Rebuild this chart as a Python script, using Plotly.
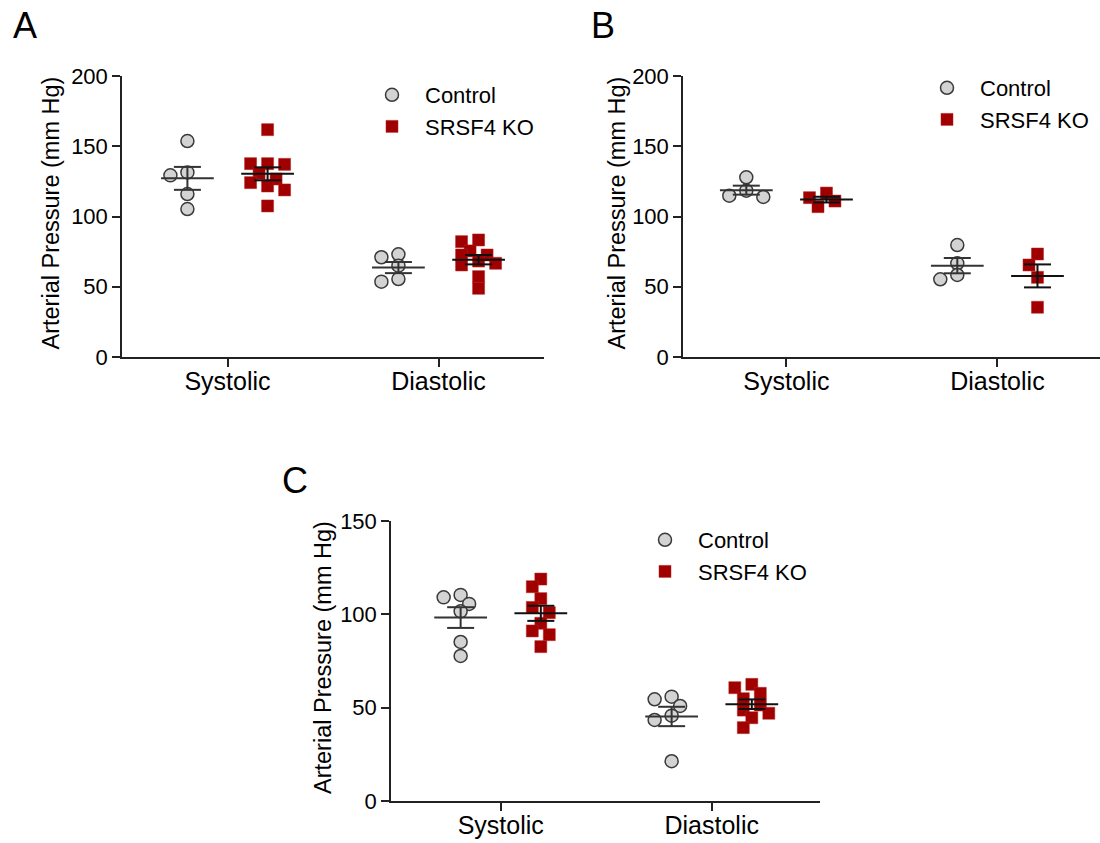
import numpy as np
import plotly.graph_objects as go

W, H = 1100, 843
FONT = "Liberation Sans, Arial, sans-serif"

categories = ["Systolic", "Diastolic"]
groups = ["Control", "SRSF4 KO"]

# Panel A values (mm Hg)
a_sys_control = [153.7, 131.4, 129.3, 116.0, 105.3]
a_sys_ko = [161.8, 137.6, 137.6, 137.1, 130.7, 126.7, 124.1, 121.7, 118.9, 107.5]
a_dia_control = [73.1, 71.0, 65.0, 55.5, 53.6]
a_dia_ko = [83.3, 82.1, 75.5, 72.6, 72.6, 68.3, 66.7, 65.5, 57.2, 48.9]

# Panel B values (mm Hg)
b_sys_control = [127.9, 118.4, 114.8, 113.9]
b_sys_ko = [116.7, 113.4, 111.0, 107.0]
b_dia_control = [79.7, 66.7, 58.4, 55.3]
b_dia_ko = [73.3, 65.5, 56.7, 35.4]

# Panel C values (mm Hg)
c_sys_control = [110.4, 109.1, 105.6, 101.6, 85.2, 77.7]
c_sys_ko = [118.9, 114.8, 108.4, 103.7, 100.9, 95.2, 91.1, 89.1, 82.7]
c_dia_control = [55.9, 54.5, 50.9, 45.7, 43.4, 21.3]
c_dia_ko = [62.5, 60.7, 57.7, 54.8, 51.4, 48.7, 47.0, 44.6, 39.3]

y_ticks_ab = [0, 50, 100, 150, 200]
y_ticks_c = [0, 50, 100, 150]
y_title = "Arterial Pressure (mm Hg)"

CTRL_FILL = "#d3d3d3"
CTRL_LINE = "#3a3a3a"
KO_COLOR = "#a00000"
GROUP_OFFSET = 0.19
MEAN_HALF = 0.125
CAP_HALF = 0.064

panels = [
    dict(name="A", data=[(a_sys_control, a_sys_ko), (a_dia_control, a_dia_ko)],
         xpx=(122, 544), ypx=(76, 357), xr=(-0.5, 1.5), yr=(0, 200), yticks=y_ticks_ab,
         legend=(359, 74), label=(25, 25), ytitle_x=50),
    dict(name="B", data=[(b_sys_control, b_sys_ko), (b_dia_control, b_dia_ko)],
         xpx=(683, 1100), ypx=(76, 357), xr=(-0.49, -0.49 + 417 / 211), yr=(0, 200), yticks=y_ticks_ab,
         legend=(914, 67), label=(603, 25), ytitle_x=616),
    dict(name="C", data=[(c_sys_control, c_sys_ko), (c_dia_control, c_dia_ko)],
         xpx=(391, 820), ypx=(521, 801), xr=(-0.52, -0.52 + 429 / 211), yr=(0, 150), yticks=y_ticks_c,
         legend=(632, 519), label=(295, 480), ytitle_x=323),
]


def swarm(vals, ppy, ppx, step=8.5, d=11.0):
    """Deterministic beeswarm: spread overlapping points horizontally in half-steps."""
    placed = []
    res = [0.0] * len(vals)
    order = sorted(range(len(vals)), key=lambda i: -vals[i])
    for i in order:
        y = vals[i] * ppy
        best_x, best_gap = 0.0, -1.0
        for k in [0, -1, 1, -2, 2]:
            x = k * step
            gap = min([np.hypot(x - px, y - py) for px, py in placed] or [1e9])
            if gap >= d - 1e-6:
                best_x = x
                break
            if gap > best_gap + 1e-6:
                best_x, best_gap = x, gap
        placed.append((best_x, y))
        res[i] = best_x / ppx
    return res


fig = go.Figure()
layout = dict(width=W, height=H, margin=dict(l=0, r=0, t=0, b=0, autoexpand=False),
              plot_bgcolor="white", paper_bgcolor="white",
              font=dict(family=FONT, color="black"), annotations=[])

for pi, p in enumerate(panels):
    sfx = "" if pi == 0 else str(pi + 1)
    xa, ya = "x" + sfx, "y" + sfx
    leg = "legend" + sfx
    ppx = (p["xpx"][1] - p["xpx"][0]) / (p["xr"][1] - p["xr"][0])
    ppy = (p["ypx"][1] - p["ypx"][0]) / (p["yr"][1] - p["yr"][0])

    for gi, gname in enumerate(groups):
        xs, ys = [], []
        lx, ly = [], []
        for ci, pair in enumerate(p["data"]):
            vals = pair[gi]
            center = ci + (-GROUP_OFFSET if gi == 0 else GROUP_OFFSET)
            offs = swarm(vals, ppy, ppx)
            xs += [center + o for o in offs]
            ys += list(vals)
            arr = np.array(vals, dtype=float)
            m = arr.mean()
            sem = arr.std(ddof=1) / np.sqrt(len(arr))
            lx += [center - MEAN_HALF, center + MEAN_HALF, None,
                   center, center, None,
                   center - CAP_HALF, center + CAP_HALF, None,
                   center - CAP_HALF, center + CAP_HALF, None]
            ly += [m, m, None, m - sem, m + sem, None,
                   m + sem, m + sem, None, m - sem, m - sem, None]
        if gi == 0:
            marker = dict(symbol="circle", size=13, color=CTRL_FILL,
                          line=dict(color=CTRL_LINE, width=1.5))
        else:
            marker = dict(symbol="square", size=12, color=KO_COLOR,
                          line=dict(color="#b52020", width=0.5))
        fig.add_trace(go.Scatter(x=xs, y=ys, mode="markers", marker=marker, name=gname,
                                 xaxis=xa, yaxis=ya, legend=leg, legendgroup=p["name"] + gname,
                                 showlegend=True))
        fig.add_trace(go.Scatter(x=lx, y=ly, mode="lines",
                                 line=dict(color="#333333" if gi == 0 else "#111111", width=2),
                                 xaxis=xa, yaxis=ya, showlegend=False, hoverinfo="skip"))

    xdom = [p["xpx"][0] / W, min(p["xpx"][1] / W, 1.0)]
    ydom = [1 - p["ypx"][1] / H, 1 - p["ypx"][0] / H]
    layout["xaxis" + sfx] = dict(domain=xdom, range=list(p["xr"]), anchor=ya, automargin=False,
                                 tickmode="array", tickvals=[0, 1], ticktext=categories,
                                 showline=True, linecolor="#222222", linewidth=1.5,
                                 ticks="outside", ticklen=8, tickwidth=1.5, tickcolor="#222222",
                                 ticklabelstandoff=-7,
                                 showgrid=False, zeroline=False,
                                 tickfont=dict(size=25, family=FONT, color="black"))
    layout["yaxis" + sfx] = dict(domain=ydom, range=list(p["yr"]), anchor=xa, automargin=False,
                                 tickmode="array", tickvals=p["yticks"],
                                 showline=True, linecolor="#222222", linewidth=1.5,
                                 ticks="outside", ticklen=8, tickwidth=1.5, tickcolor="#222222",
                                 showgrid=False, zeroline=False,
                                 tickfont=dict(size=22, family=FONT, color="black"))
    layout[leg] = dict(x=p["legend"][0] / W, y=1 - p["legend"][1] / H,
                       xanchor="left", yanchor="top", bgcolor="rgba(0,0,0,0)",
                       font=dict(size=22, family=FONT, color="black"),
                       traceorder="grouped", tracegroupgap=0, itemwidth=56)
    layout["annotations"].append(dict(text=p["name"], x=p["label"][0] / W, y=1 - p["label"][1] / H,
                                      xref="paper", yref="paper", showarrow=False,
                                      xanchor="center", yanchor="middle",
                                      font=dict(size=36, family=FONT, color="black")))
    ymid = (p["ypx"][0] + p["ypx"][1]) / 2 - 3
    layout["annotations"].append(dict(text=y_title, x=p["ytitle_x"] / W, y=1 - ymid / H,
                                      xref="paper", yref="paper", showarrow=False,
                                      textangle=-90, xanchor="center", yanchor="middle",
                                      font=dict(size=23.5, family=FONT, color="black")))

fig.update_layout(**layout)
fig.write_html("out.html")
